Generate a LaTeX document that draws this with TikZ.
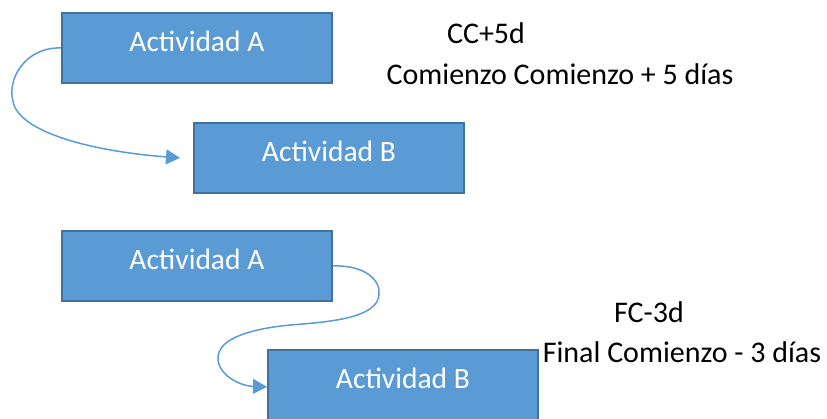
\documentclass[tikz,border=0pt]{standalone}
\usepackage{fontspec}
\setmainfont{Carlito}
\usetikzlibrary{arrows.meta}
\definecolor{boxfill}{HTML}{5B9BD5}
\definecolor{boxline}{HTML}{41719C}
\tikzset{
  actbox/.style={draw=boxline, line width=1.8pt, fill=boxfill, text=white,
    font=\fontsize{29.5}{34}\selectfont, anchor=north west, inner sep=0pt,
    text depth=14pt},
  link/.style={draw=boxfill, line width=1.5pt, -{Triangle[length=14pt,width=15pt]}},
  note/.style={font=\fontsize{30}{34}\selectfont, text=black, inner sep=0pt},
}
\begin{document}
\begin{tikzpicture}[x=1pt,y=-1pt]
\useasboundingbox (0,0) rectangle (827,419);
\node[actbox, minimum width=270pt, minimum height=70pt] (a1) at (61,12) {Actividad A};
\node[actbox, minimum width=270pt, minimum height=70pt] (b1) at (193,122) {Actividad B};
\node[actbox, minimum width=270pt, minimum height=70pt] (a2) at (61,230) {Actividad A};
\node[actbox, minimum width=270pt, minimum height=70pt] (b2) at (267,349) {Actividad B};
\coordinate (t1) at ([xshift=-13pt]b1.west);
\coordinate (t2) at ([yshift=-2pt]b2.west);
\draw[link] (a1.west) .. controls (25,47) and (5,80) .. (14,105)
  .. controls (25,135) and (100,152) .. (t1);
\draw[link] (a2.east) .. controls (365,265) and (381,280) .. (379,295)
  .. controls (377,318) and (330,322) .. (290,325)
  .. controls (240,330) and (218,342) .. (218,358)
  .. controls (218,375) and (240,386) .. (t2);
\node[note] (n1) at (486,33) {CC+5d};
\node[note] (n2) at (560,74) {Comienzo Comienzo + 5 días};
\node[note] (n3) at (649,312) {FC-3d};
\node[note] (n4) at (682,352) {Final Comienzo - 3 días};
\end{tikzpicture}
\end{document}
